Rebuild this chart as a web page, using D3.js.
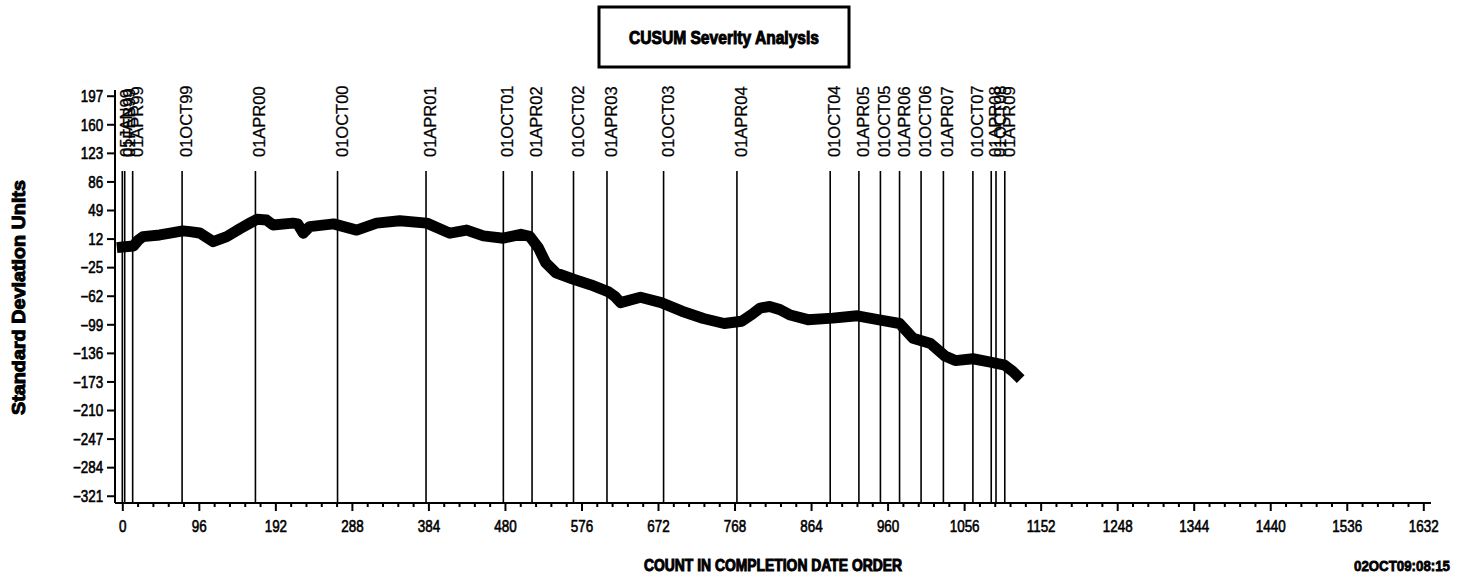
<!DOCTYPE html>
<html>
<head>
<meta charset="utf-8">
<title>CUSUM Severity Analysis</title>
<script src="https://d3js.org/d3.v7.min.js"></script>
<style>
  body { margin: 0; background: #fff; }
  svg text { fill: #000; }
  .axis path, .axis line { stroke: #000; stroke-width: 2px; }
  .refs line { stroke: #000; stroke-width: 1.6px; }
</style>
</head>
<body>
<svg width="1462" height="576"></svg>
<script>

// cusum trace
var counts = [0, 14, 20, 26, 47, 60, 76, 85, 97, 114, 131, 148, 160, 169, 181, 189, 214, 220, 227, 235, 265,
    294, 319, 348, 382, 411, 432, 453, 478, 500, 511, 522, 531, 544, 566, 588, 610, 618, 625, 650, 676, 702,
    729, 755, 777, 790, 800, 812, 825, 838, 860, 891, 922, 953, 975, 992, 1014, 1032, 1045, 1067, 1089, 1107,
    1117, 1122];
var cusum = [1, 2.5, 10, 14.5, 16.7, 19, 22, 21, 19.3, 8, 14.5, 25, 32, 37, 36, 29.7, 32, 31, 19, 27.5, 31,
    23, 32, 35, 32, 19, 23, 15.5, 12.5, 17.5, 15, 0, -19, -32.5, -40.7, -48, -57, -63, -71, -64, -71, -82,
    -91.5, -98, -95, -86, -78, -76, -80, -87, -93, -91, -88, -94, -98, -117, -124, -140, -146, -143.6, -148,
    -152, -160, -165];

// date reference lines
var refDates = ["05JAN99", "01FEB99", "01APR99", "01OCT99", "01APR00", "01OCT00", "01APR01", "01OCT01",
    "01APR02", "01OCT02", "01APR03", "01OCT03", "01APR04", "01OCT04", "01APR05", "01OCT05", "01APR06",
    "01OCT06", "01APR07", "01OCT07", "01APR08", "01OCT08", "01APR09"];
var refCounts = [0, 3, 13, 75, 167, 270, 381, 478, 514, 566, 608, 679, 771, 888, 924, 951, 975, 1002, 1030,
    1067, 1090, 1096, 1107];

var xTicks = d3.range(0, 1633, 96);
var yTicks = d3.range(197, -322, -37);

var svg = d3.select("svg");

var x = d3.scaleLinear().domain([0, 1632]).range([122.3, 1423.3]);
var y = d3.scaleLinear().domain([-330.4, 204.4]).range([503, 90]);

var sans = "'Liberation Sans', Arial, sans-serif";

// title box
svg.append("rect")
    .attr("x", 599).attr("y", 7).attr("width", 250).attr("height", 60)
    .attr("fill", "none").attr("stroke", "#000").attr("stroke-width", 3);
svg.append("text")
    .attr("x", 629).attr("y", 44)
    .attr("textLength", 190).attr("lengthAdjust", "spacingAndGlyphs")
    .style("font", "bold 18px " + sans)
    .style("stroke", "#000").style("stroke-width", 1)
    .text("CUSUM Severity Analysis");

// reference lines + rotated date labels
var refs = svg.append("g").attr("class", "refs");
refs.selectAll("line")
    .data(refCounts)
    .enter().append("line")
    .attr("x1", function(d) { return x(d); })
    .attr("x2", function(d) { return x(d); })
    .attr("y1", 171)
    .attr("y2", y(-330.4));

refs.selectAll("text")
    .data(refDates)
    .enter().append("text")
    .attr("transform", function(d, i) { return "translate(" + (x(refCounts[i]) + 10) + ",157) rotate(-90)"; })
    .style("font", "16.5px " + sans)
    .style("stroke", "#000").style("stroke-width", 0.25)
    .text(function(d) { return d; });

// axes
var xAxis = svg.append("g")
    .attr("class", "axis")
    .attr("transform", "translate(0,503)")
    .call(d3.axisBottom(x).tickValues(xTicks).tickSize(8).tickSizeOuter(0).tickFormat(d3.format("d")));
xAxis.select(".domain").attr("d", "M115,0H1431");
xAxis.selectAll("text")
    .attr("y", 29).attr("dy", null)
    .attr("transform", "scale(0.84,1)")
    .style("font", "16px " + sans)
    .style("stroke", "#000").style("stroke-width", 0.6);

var xMinor = svg.append("g")
    .attr("class", "axis")
    .attr("transform", "translate(0,503)")
    .call(d3.axisBottom(x)
        .tickValues(d3.range(0, 1633, 19.2).filter(function(v) { return Math.round(v) % 96 !== 0; }))
        .tickSize(4).tickFormat(""));
xMinor.select(".domain").remove();

var yAxis = svg.append("g")
    .attr("class", "axis")
    .attr("transform", "translate(115,0)")
    .call(d3.axisLeft(y).tickValues(yTicks).tickSize(8).tickSizeOuter(0)
        .tickFormat(function(d) { return d < 0 ? "\u2212" + (-d) : d; }));
yAxis.select(".domain").attr("d", "M0,90V503");
yAxis.selectAll("text")
    .attr("x", -14).attr("dy", "0.36em")
    .attr("transform", "scale(0.84,1)")
    .style("font", "16px " + sans)
    .style("stroke", "#000").style("stroke-width", 0.6);

// cusum trace
var line = d3.line()
    .x(function(d, i) { return x(counts[i]); })
    .y(function(d) { return y(d); });

svg.append("path")
    .datum(cusum)
    .attr("d", line)
    .attr("fill", "none")
    .attr("stroke", "#000")
    .attr("stroke-width", 11)
    .attr("stroke-linejoin", "round")
    .attr("stroke-linecap", "square");

// axis titles and footer
svg.append("text")
    .attr("transform", "translate(25,415) rotate(-90)")
    .attr("textLength", 235).attr("lengthAdjust", "spacingAndGlyphs")
    .style("font", "bold 18px " + sans)
    .style("stroke", "#000").style("stroke-width", 1)
    .text("Standard Deviation Units");

svg.append("text")
    .attr("x", 644).attr("y", 571)
    .attr("textLength", 258).attr("lengthAdjust", "spacingAndGlyphs")
    .style("font", "bold 16px " + sans)
    .style("stroke", "#000").style("stroke-width", 1)
    .text("COUNT IN COMPLETION DATE ORDER");

svg.append("text")
    .attr("x", 1354).attr("y", 571)
    .attr("textLength", 96).attr("lengthAdjust", "spacingAndGlyphs")
    .style("font", "bold 15px " + sans)
    .style("stroke", "#000").style("stroke-width", 0.8)
    .text("02OCT09:08:15");

</script>
</body>
</html>
